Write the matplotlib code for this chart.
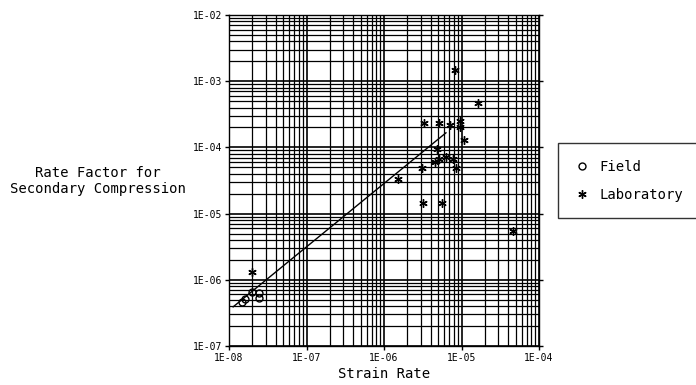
import matplotlib
matplotlib.use('Agg')
import matplotlib.pyplot as plt
from matplotlib.ticker import FuncFormatter, LogLocator, NullFormatter
import numpy as np

# Field measurements
field_x = [1.47e-8, 1.6e-8, 1.98e-8, 2.43e-8, 2.43e-8]
field_y = [4.6e-7, 5.2e-7, 6.6e-7, 6.3e-7, 5.3e-7]

# Laboratory measurements
lab_x = [8.2e-6, 1.62e-5, 3.26e-6, 5.1e-6, 7.1e-6, 9.5e-6, 9.6e-6, 1.07e-5,
         4.8e-6, 4.5e-6, 5.1e-6, 6.4e-6, 7.7e-6, 3.07e-6, 8.6e-6, 1.5e-6,
         3.16e-6, 5.6e-6, 4.6e-5, 2.0e-8]
lab_y = [1.48e-3, 4.7e-4, 2.34e-4, 2.3e-4, 2.2e-4, 2.5e-4, 2.0e-4, 1.29e-4,
         9.5e-5, 6.0e-5, 6.7e-5, 7.2e-5, 6.7e-5, 4.9e-5, 4.9e-5, 3.3e-5,
         1.44e-5, 1.44e-5, 5.5e-6, 1.3e-6]

# fitted trend line end points
fit_x = [1.13e-8, 6.3e-6]
fit_y = [3.9e-7, 1.66e-4]

mono = 'DejaVu Sans Mono'

fig = plt.figure(figsize=(6.96, 3.85), dpi=100)
ax = fig.add_axes([229 / 696, 1 - 346 / 385, 310 / 696, 331 / 385])

ax.set_xscale('log')
ax.set_yscale('log')
ax.set_xlim(1e-8, 1e-4)
ax.set_ylim(1e-7, 1e-2)

ax.xaxis.set_major_locator(LogLocator(base=10, numticks=10))
ax.yaxis.set_major_locator(LogLocator(base=10, numticks=10))
ax.xaxis.set_minor_locator(LogLocator(base=10, subs=np.arange(2, 10), numticks=20))
ax.yaxis.set_minor_locator(LogLocator(base=10, subs=np.arange(2, 10), numticks=20))
fmt = FuncFormatter(lambda v, pos: f"1E{int(round(np.log10(v))):+03d}")
ax.xaxis.set_major_formatter(fmt)
ax.yaxis.set_major_formatter(fmt)
ax.xaxis.set_minor_formatter(NullFormatter())
ax.yaxis.set_minor_formatter(NullFormatter())

ax.grid(True, which='major', color='black', linewidth=1.2)
ax.grid(True, which='minor', color='black', linewidth=0.9)
ax.tick_params(which='major', direction='out', length=3, width=1,
               left=True, right=True, labelsize=7, pad=2)
ax.tick_params(which='minor', length=0)
for lab in ax.get_xticklabels() + ax.get_yticklabels():
    lab.set_family(mono)
for s in ax.spines.values():
    s.set_color('black')
    s.set_linewidth(1)

ax.plot(fit_x, fit_y, color='black', linewidth=1)
h_field, = ax.plot(field_x, field_y, linestyle='none', marker='o', markersize=5,
                   markerfacecolor='none', markeredgecolor='black', markeredgewidth=1)
h_lab, = ax.plot(lab_x, lab_y, linestyle='none', marker=(6, 2, 0), markersize=6,
                 color='black', markeredgewidth=1)

ax.set_xlabel("Strain Rate", family=mono, fontsize=10, labelpad=3)
fig.text(98 / 696, 1 - 181 / 385, "Rate Factor for\nSecondary Compression",
         family=mono, fontsize=10, ha='center', va='center', multialignment='center',
         linespacing=1.2)

leg = fig.legend([h_field, h_lab], ["Field", "Laboratory"],
                 loc='upper left', bbox_to_anchor=(558 / 696, 1 - 218 / 385, 140 / 696, 75 / 385),
                 mode='expand',
                 prop={'family': mono, 'size': 10}, frameon=True, fancybox=False,
                 handlelength=1.0, handletextpad=0.8, borderpad=1.2,
                 labelspacing=1.0, borderaxespad=0)
leg.get_frame().set_edgecolor('black')
leg.get_frame().set_linewidth(1)

fig.savefig('out.png', dpi=100)
